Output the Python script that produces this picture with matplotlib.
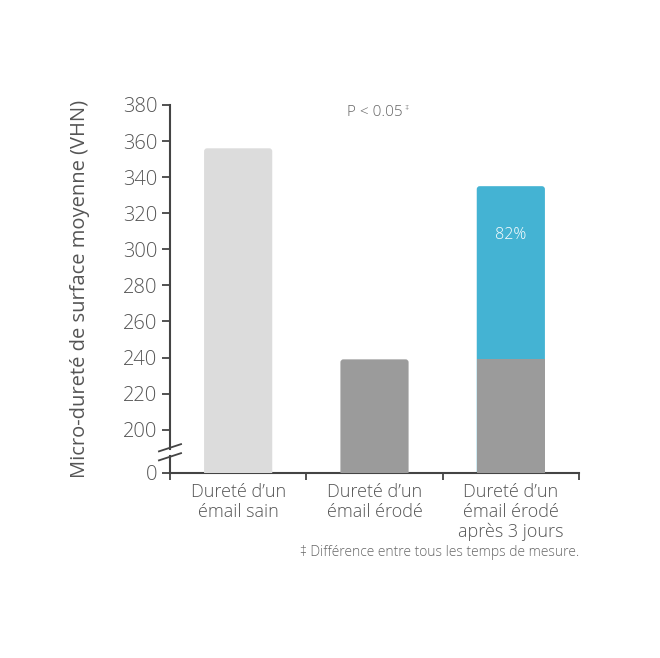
import matplotlib.pyplot as plt
import numpy as np
from matplotlib.patches import FancyBboxPatch

plt.rcParams['font.family'] = ['Open Sans', 'DejaVu Sans']
plt.rcParams['font.weight'] = 'light'

# data
categories = ["Dureté d’un\némail sain", "Dureté d’un\némail érodé", "Dureté d’un\némail érodé\naprès 3 jours"]
base_values = [356, 239, 239]
recovered_top = [None, None, 335]
bar_colors = ['#dcdcdc', '#9b9b9b', '#9b9b9b']
recover_color = '#44b3d3'
recover_label = "82%"
yticks = [0, 200, 220, 240, 260, 280, 300, 320, 340, 360, 380]

# broken axis: 0 kept at bottom, 200..380 shifted down
BREAK_OFFSET = 176


def pos(v):
    return v if v < 200 else v - BREAK_OFFSET


fig = plt.figure(figsize=(6.6, 6.58), dpi=100)
ax = fig.add_axes([170 / 660, 1 - 473 / 658, 409 / 660, 368 / 658])
ax.set_xlim(-0.5, 2.5)
ax.set_ylim(0, pos(380))

# pixel -> data scale for rounded tops
x_per_px = 3.0 / 409
y_per_px = pos(380) / 368
r = 3 * x_per_px
aspect = y_per_px / x_per_px


def rounded(rect, color, z):
    # round the top corners only; the bottom ones fall below the axis and are clipped
    x0, w, h = rect.get_x(), rect.get_width(), rect.get_y() + rect.get_height()
    p = FancyBboxPatch((x0, -10), w, h + 10, boxstyle=f"round,pad=0,rounding_size={r}",
                       mutation_aspect=aspect, fc=color, ec='none', zorder=z)
    ax.add_patch(p)


x = np.arange(len(categories))
bars = ax.bar(x, [pos(v) for v in base_values], width=0.5, color=bar_colors, zorder=3)
for i, top in enumerate(recovered_top):
    if top is None:
        continue
    b = pos(base_values[i])
    h = pos(top) - b
    seg = ax.bar(x[i], h, bottom=b, width=0.5, color=recover_color, zorder=2)[0]
    seg.set_visible(False)
    rounded(seg, recover_color, 2)
    ax.text(x[i], b + h * 0.72, recover_label, ha='center', va='center',
            color='white', fontsize=11.5)
for i, bar in enumerate(bars):
    if recovered_top[i] is None:
        bar.set_visible(False)
        rounded(bar, bar_colors[i], 3)

axis_col = '#444444'
txt_col = '#555555'

# y ticks
ax.set_yticks([pos(v) for v in yticks])
ax.set_yticklabels([str(v) for v in yticks])
ax.tick_params(axis='y', length=6, width=1.3, color=axis_col, labelcolor=txt_col,
               labelsize=14.5, pad=3)

# x ticks: marks on category boundaries, labels under centers
ax.set_xticks(np.arange(-0.5, len(categories), 1.0))
ax.set_xticklabels([])
ax.set_xticks(x, minor=True)
ax.set_xticklabels(categories, minor=True, fontsize=13, color=txt_col,
                   linespacing=1.15)
ax.tick_params(axis='x', which='major', length=5, width=1.3, color=axis_col)
ax.tick_params(axis='x', which='minor', length=0, pad=7)

for s in ['top', 'right', 'left']:
    ax.spines[s].set_visible(False)
ax.spines['bottom'].set_color(axis_col)
ax.spines['bottom'].set_linewidth(1.5)

# left axis drawn in two pieces with a break
tr = ax.get_yaxis_transform()
gap_lo, gap_hi = 9.5, 13.5
ax.plot([0, 0], [0, gap_lo], color=axis_col, lw=1.5, transform=tr, clip_on=False)
ax.plot([0, 0], [gap_hi, pos(380)], color=axis_col, lw=1.5, transform=tr, clip_on=False)
for yb in (gap_lo - 0.5, gap_hi + 0.5):
    ax.plot([-0.027, 0.027], [yb - 2, yb + 2], color=axis_col, lw=1.3,
            transform=tr, clip_on=False)

ax.set_ylabel("Micro-dureté de surface moyenne (VHN)", fontsize=14.5, color=txt_col,
              labelpad=24)

ax.text(1.0, pos(376), "P < 0.05", ha='center', va='center', fontsize=11,
        color='#666666')
ax.annotate("\u2021", xy=(1.0, pos(376)), xytext=(23, 3), textcoords='offset points',
            ha='center', va='center', fontsize=6, color='#666666')
fig.text(579 / 660, 1 - 553 / 658, "\u2021 Différence entre tous les temps de mesure.",
         ha='right', va='center', fontsize=10, color='#666666')

fig.savefig('out.png', dpi=100)
